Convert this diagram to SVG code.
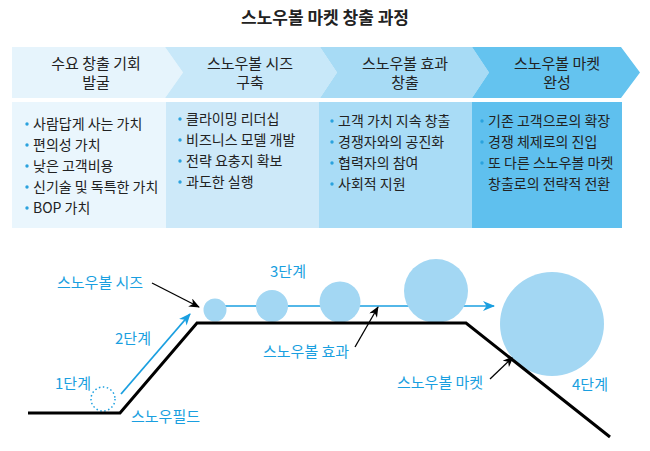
<svg xmlns="http://www.w3.org/2000/svg" width="650" height="451" viewBox="0 0 650 451">
<defs>
<style>
.t{font-family:"Noto Sans CJK KR","Noto Sans",sans-serif;fill:#222;}
.title{font-size:17px;font-weight:bold;text-anchor:middle;}
.bn{font-size:15px;text-anchor:middle;}
.it{font-size:14px;}
.lb{font-family:"Noto Sans CJK KR","Noto Sans",sans-serif;font-size:15px;fill:#1a9fe0;}
.bul{fill:#2aa2de;}
.blk{stroke:#000;stroke-width:1.3;fill:none;}
.bub{fill:#a3d7f3;}
</style>
<marker id="ab" viewBox="0 0 12 10" refX="11" refY="5" markerWidth="12" markerHeight="10" markerUnits="userSpaceOnUse" orient="auto"><path d="M0,0 L12,5 L0,10 L3.5,5 z" fill="#1a9fe0"/></marker>
<marker id="ak" viewBox="0 0 12 10" refX="11" refY="5" markerWidth="12" markerHeight="9" markerUnits="userSpaceOnUse" orient="auto"><path d="M0,0 L12,5 L0,10 L3.5,5 z" fill="#000"/></marker>
</defs>
<rect width="650" height="451" fill="#fff"/>
<text class="t title" x="325" y="24">스노우볼 마켓 창출 과정</text>

<g id="stage1">
<path d="M12,47 H165 L183,72.5 L165,98 H12 Z" fill="#e6f4fc"/>
<text class="t bn" x="96" y="69">수요 창출 기회</text>
<text class="t bn" x="96" y="88">발굴</text>
<rect x="12" y="102" width="154" height="126" fill="#eaf6fd"/>
<g class="it t">
<circle class="bul" cx="27" cy="124" r="1.7"/><text x="33" y="129">사람답게 사는 가치</text>
<circle class="bul" cx="27" cy="145" r="1.7"/><text x="33" y="150">편의성 가치</text>
<circle class="bul" cx="27" cy="166" r="1.7"/><text x="33" y="171">낮은 고객비용</text>
<circle class="bul" cx="27" cy="187" r="1.7"/><text x="33" y="192">신기술 및 독특한 가치</text>
<circle class="bul" cx="27" cy="208" r="1.7"/><text x="33" y="213">BOP 가치</text>
</g>
</g>

<g id="stage2">
<path d="M165,47 H320 L337,72.5 L320,98 H165 L183,72.5 Z" fill="#c8e8f9"/>
<text class="t bn" x="250" y="69">스노우볼 시즈</text>
<text class="t bn" x="250" y="88">구축</text>
<rect x="166" y="102" width="153" height="126" fill="#cde9f9"/>
<g class="it t">
<circle class="bul" cx="180" cy="119" r="1.7"/><text x="186" y="124">클라이밍 리더십</text>
<circle class="bul" cx="180" cy="140" r="1.7"/><text x="186" y="145">비즈니스 모델 개발</text>
<circle class="bul" cx="180" cy="161" r="1.7"/><text x="186" y="166">전략 요충지 확보</text>
<circle class="bul" cx="180" cy="182" r="1.7"/><text x="186" y="187">과도한 실행</text>
</g>
</g>

<g id="stage3">
<path d="M320,47 H472 L489,72.5 L472,98 H320 L337,72.5 Z" fill="#a7dbf5"/>
<text class="t bn" x="405" y="69">스노우볼 효과</text>
<text class="t bn" x="405" y="88">창출</text>
<rect x="319" y="102" width="153" height="126" fill="#a9dcf6"/>
<g class="it t">
<circle class="bul" cx="332" cy="121" r="1.7"/><text x="338" y="126">고객 가치 지속 창출</text>
<circle class="bul" cx="332" cy="142" r="1.7"/><text x="338" y="147">경쟁자와의 공진화</text>
<circle class="bul" cx="332" cy="163" r="1.7"/><text x="338" y="168">협력자의 참여</text>
<circle class="bul" cx="332" cy="184" r="1.7"/><text x="338" y="189">사회적 지원</text>
</g>
</g>

<g id="stage4">
<path d="M472,47 H621 L640,72.5 L621,98 H472 L489,72.5 Z" fill="#64c3ef"/>
<text class="t bn" x="557" y="69">스노우볼 마켓</text>
<text class="t bn" x="557" y="88">완성</text>
<rect x="472" y="102" width="150" height="126" fill="#5fc0ee"/>
<g class="it t">
<circle class="bul" cx="482" cy="121" r="1.7"/><text x="488" y="126">기존 고객으로의 확장</text>
<circle class="bul" cx="482" cy="142" r="1.7"/><text x="488" y="147">경쟁 체제로의 진입</text>
<circle class="bul" cx="482" cy="163" r="1.7"/><text x="488" y="168">또 다른 스노우볼 마켓</text>
<text x="488" y="189">창출로의 전략적 전환</text>
</g>
</g>

<g id="connectors">
<line x1="121" y1="394" x2="190" y2="314" stroke="#1a9fe0" stroke-width="1.8" marker-end="url(#ab)"/>
<line x1="220" y1="306" x2="494" y2="306" stroke="#1a9fe0" stroke-width="1.3" marker-end="url(#ab)"/>
<line class="blk" x1="152" y1="283" x2="199" y2="307" marker-end="url(#ak)"/>
<line class="blk" x1="355" y1="347" x2="378" y2="307" marker-end="url(#ak)"/>
<line class="blk" x1="490" y1="379" x2="513" y2="357" marker-end="url(#ak)"/>
</g>

<g id="snowballs">
<circle cx="103" cy="399" r="12" fill="none" stroke="#1a9fe0" stroke-width="1.5" stroke-dasharray="1.5,2.5"/>
<circle class="bub" cx="215" cy="310" r="11.5"/>
<circle class="bub" cx="272" cy="306" r="16"/>
<circle class="bub" cx="340" cy="302" r="20.5"/>
<circle class="bub" cx="436" cy="291" r="32"/>
<circle class="bub" cx="552" cy="324" r="52"/>
</g>

<g id="slope">
<path d="M28,413 H120 L197,323 H466 L610,437" fill="none" stroke="#000" stroke-width="3" stroke-linejoin="miter"/>
</g>

<g id="labels">
<text class="lb" x="57" y="288">스노우볼 시즈</text>
<text class="lb" x="288" y="277" text-anchor="middle">3단계</text>
<text class="lb" x="115" y="344">2단계</text>
<text class="lb" x="55" y="389">1단계</text>
<text class="lb" x="131" y="422">스노우필드</text>
<text class="lb" x="263" y="357">스노우볼 효과</text>
<text class="lb" x="397" y="388">스노우볼 마켓</text>
<text class="lb" x="572" y="390">4단계</text>
</g>
</svg>
